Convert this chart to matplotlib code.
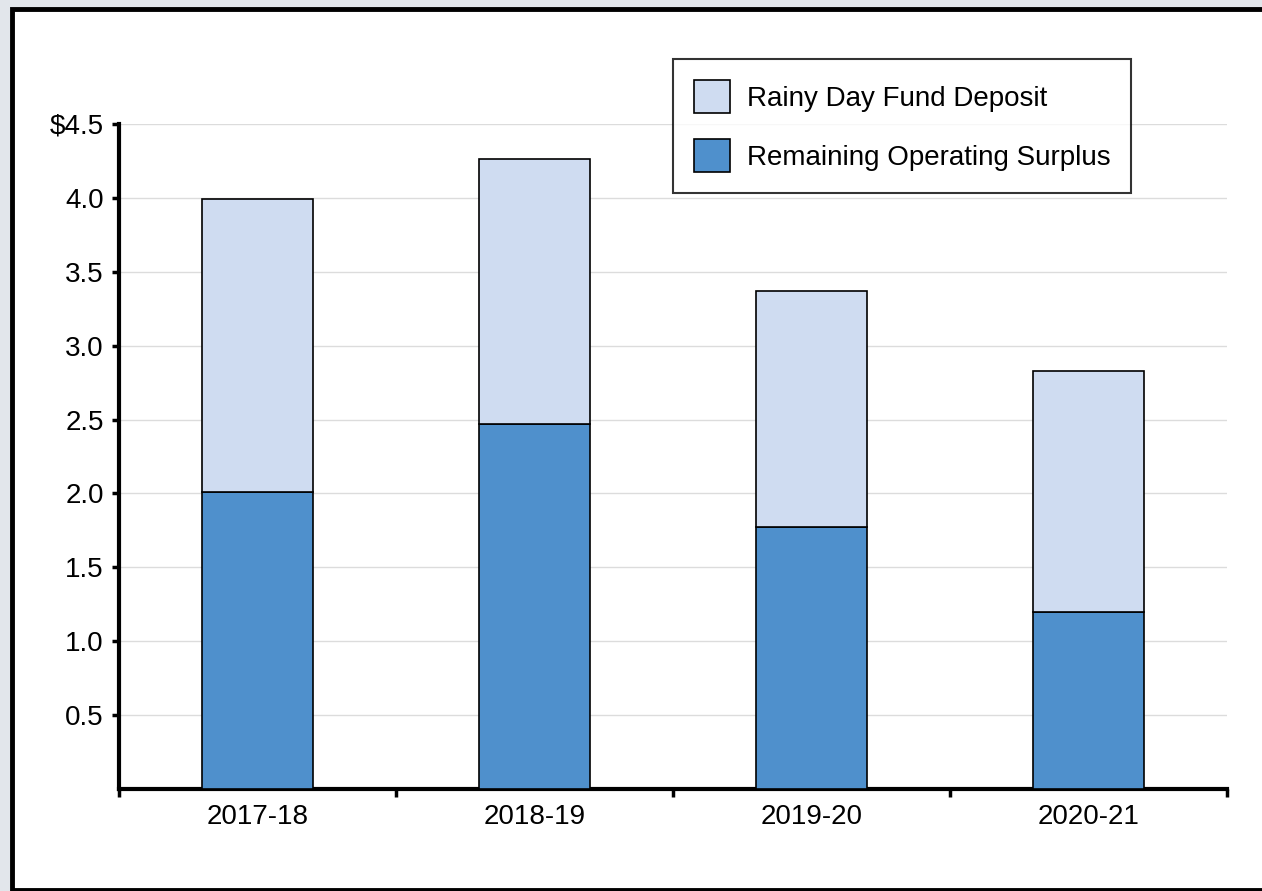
import matplotlib.pyplot as plt
from matplotlib.patches import Rectangle

plt.rcParams['font.family'] = ['Liberation Sans', 'DejaVu Sans']

# 数据
years = ['2017-18', '2018-19', '2019-20', '2020-21']
surplus = [2.01, 2.47, 1.77, 1.20]
deposit = [1.98, 1.79, 1.60, 1.63]
yticks = [0.5, 1.0, 1.5, 2.0, 2.5, 3.0, 3.5, 4.0, 4.5]
ytick_labels = ['0.5', '1.0', '1.5', '2.0', '2.5', '3.0', '3.5', '4.0', '$4.5']

dark = '#4f90cc'
light = '#cfdcf1'
fs = 20

fig = plt.figure(figsize=(12.62, 8.91), dpi=100)
fig.patch.set_facecolor('#e2e6eb')

# 白色面板和黑色边框
W, H = 1262, 891
fig.patches.append(Rectangle((11.5 / W, 1.5 / H), 1.2, 1 - 10.5 / H, transform=fig.transFigure,
                             facecolor='white', edgecolor='black', linewidth=3.5, zorder=-5))

ax = fig.add_axes([119 / W, (H - 789) / H, (1227 - 119) / W, (789 - 124) / H])
ax.set_facecolor('white')

x = list(range(len(years)))
ax.bar(x, surplus, width=0.4, color=dark, edgecolor='black', linewidth=1.2,
       label='Remaining Operating Surplus', zorder=3)
ax.bar(x, deposit, width=0.4, bottom=surplus, color=light, edgecolor='black', linewidth=1.2,
       label='Rainy Day Fund Deposit', zorder=3)

ax.set_xlim(-0.5, 3.5)
ax.set_ylim(0, 4.5)
ax.set_yticks(yticks)
ax.set_yticklabels(ytick_labels, fontsize=fs)
ax.yaxis.grid(True, color='#dcdcdc', linewidth=1)
ax.set_axisbelow(True)

# x 轴：刻度在分组之间，标签在中间
ax.set_xticks([-0.5, 0.5, 1.5, 2.5, 3.5])
ax.set_xticklabels([])
ax.set_xticks(x, minor=True)
ax.set_xticklabels(years, minor=True, fontsize=fs)
ax.tick_params(axis='x', which='major', direction='out', length=6, width=2.5)
ax.tick_params(axis='x', which='minor', length=0, pad=11)
ax.tick_params(axis='y', direction='out', length=5, width=2.5, pad=6)

for s in ['top', 'right']:
    ax.spines[s].set_visible(False)
for s in ['left', 'bottom']:
    ax.spines[s].set_linewidth(3)

handles, labels = ax.get_legend_handles_labels()
leg = fig.legend(handles[::-1], labels[::-1], loc='upper left',
                 bbox_to_anchor=(673 / W, 1 - 59 / H), borderaxespad=0,
                 fontsize=fs, frameon=True, fancybox=False, edgecolor='black',
                 handlelength=1.3, handleheight=1.45, handletextpad=0.6,
                 labelspacing=0.95, borderpad=0.75)
leg.get_frame().set_linewidth(1.5)

fig.savefig('out.png', dpi=100, facecolor=fig.get_facecolor())
